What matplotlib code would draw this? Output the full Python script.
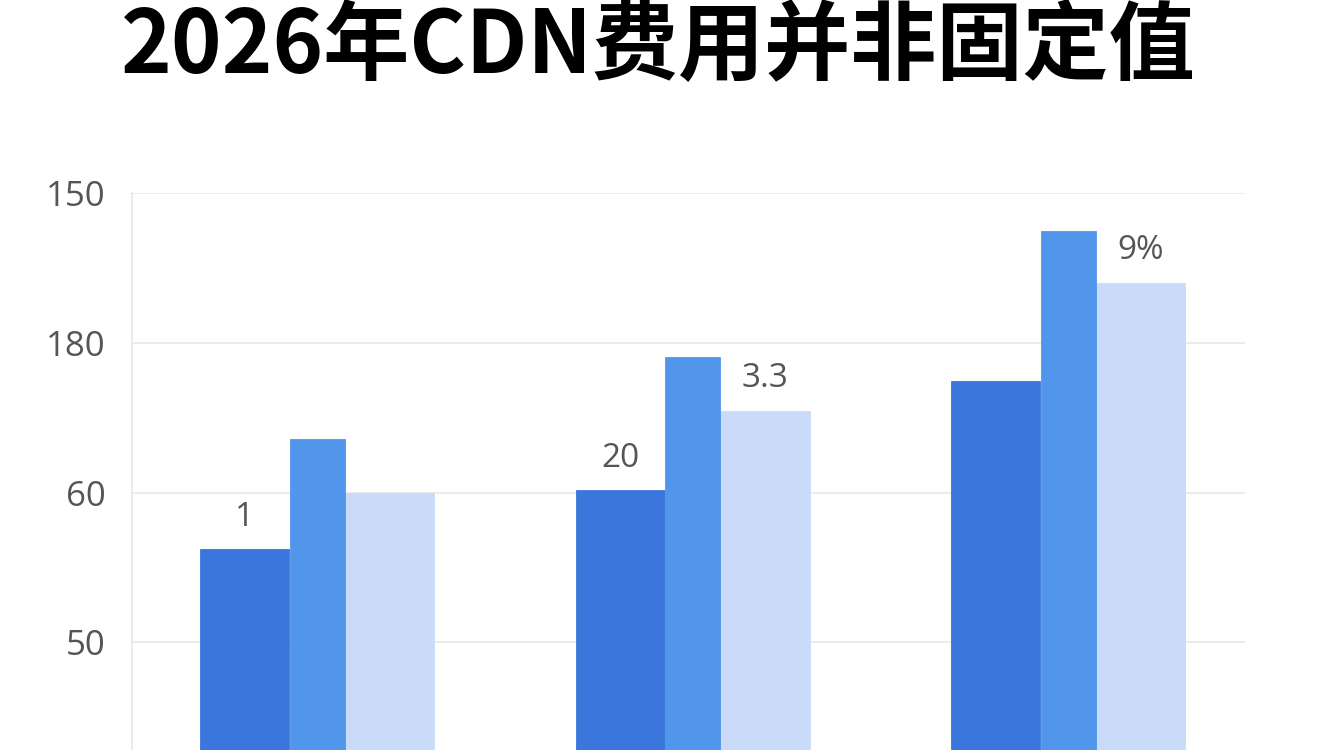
import numpy as np
import matplotlib
matplotlib.use("Agg")
import matplotlib.pyplot as plt

plt.rcParams['font.family'] = ['Open Sans', 'Noto Sans CJK SC', 'DejaVu Sans']

# data (hidden linear scale, tick labels as printed in the picture)
groups = ['组1', '组2', '组3']
series_dark = [81, 100.7, 137.3]
series_mid = [117.7, 145.3, 187.3]
series_light = [100, 127.3, 170]
tick_pos = [50, 100, 150, 200]
tick_labels = ['50', '60', '180', '150']
# (group index, series, text)
bar_labels = [(0, 'dark', '1'), (1, 'dark', '20'), (1, 'light', '3.3'), (2, 'light', '9%')]

col_dark = '#3a76db'
col_mid = '#5296ec'
col_light = '#c9dbf8'

fig = plt.figure(figsize=(13.44, 7.5), dpi=100)
fig.patch.set_facecolor('white')

# axes runs below the bottom edge of the picture, like the reference
ax = fig.add_axes([132/1344, -42/750, (1245-132)/1344, 599/750])
ax.set_facecolor('white')

x = np.arange(len(groups))
w_dark, w_mid, w_light = 0.237, 0.146, 0.24
off_dark, off_mid, off_light = -0.193, 0.0, 0.192

ax.bar(x + off_dark, series_dark, w_dark, color=col_dark, edgecolor=col_dark, linewidth=0.6, zorder=3)
ax.bar(x + off_light, series_light, w_light, color=col_light, edgecolor=col_light, linewidth=0.6, zorder=3)
ax.bar(x + off_mid, series_mid, w_mid, color=col_mid, edgecolor=col_mid, linewidth=0.6, zorder=4)

vals = {'dark': (series_dark, off_dark), 'mid': (series_mid, off_mid), 'light': (series_light, off_light)}
for gi, s, txt in bar_labels:
    v, off = vals[s]
    ax.annotate(txt, (gi + off, v[gi]), xytext=(0, 23), textcoords='offset points',
                ha='center', va='center', fontsize=24, color='#555555')

ax.set_xlim(-0.493, 2.471)
ax.set_ylim(0, 200)
ax.set_yticks(tick_pos)
ax.set_yticklabels(tick_labels, fontsize=25, color='#555555')
ax.tick_params(axis='y', length=0, pad=19)
ax.set_xticks([])
ax.yaxis.grid(True, color='#e8e8e8', linewidth=1.2, zorder=0)
ax.set_axisbelow(True)
for s in ['top', 'right', 'bottom']:
    ax.spines[s].set_visible(False)
ax.spines['left'].set_color('#e6e6e6')
ax.spines['left'].set_linewidth(1.2)

fig.text(0.49, 0.995, '2026年CDN费用并非固定值', ha='center', va='top',
         fontsize=62, fontweight='bold', color='black',
         family=['Noto Sans CJK SC', 'DejaVu Sans'])

fig.savefig('out.png', dpi=100, facecolor='white')
